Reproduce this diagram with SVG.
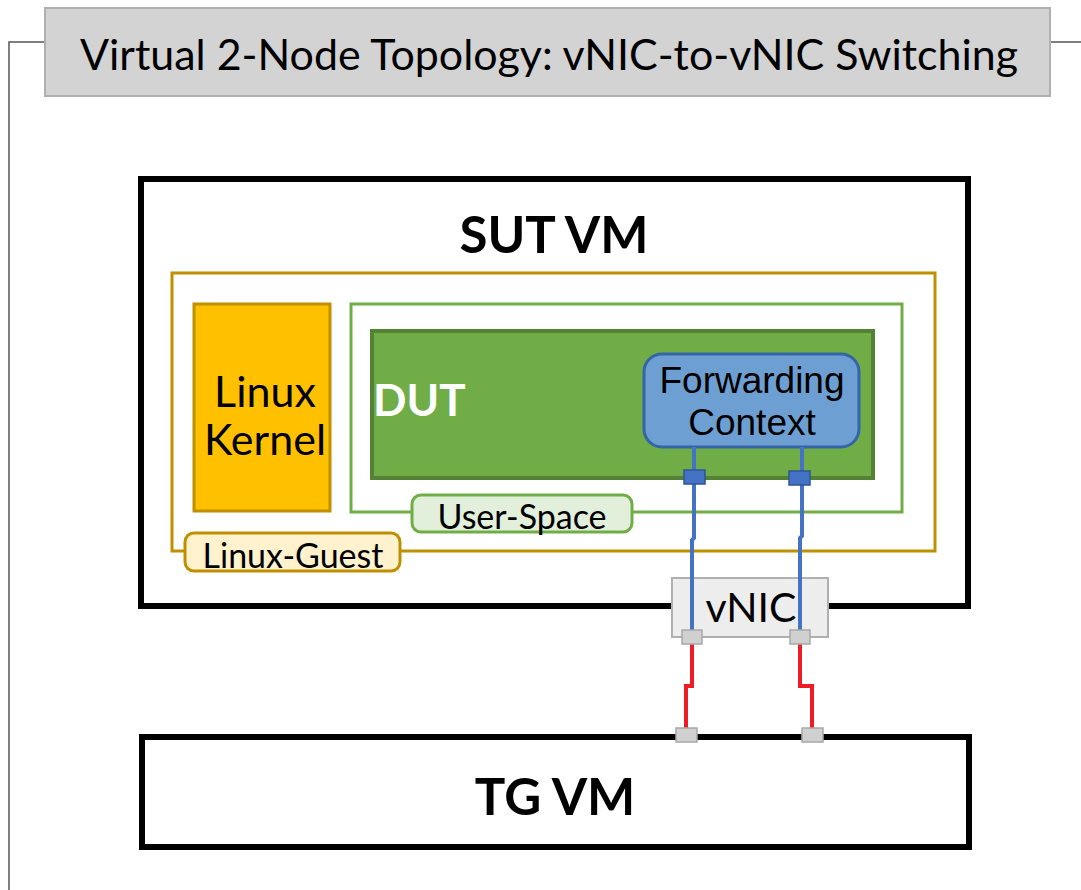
<svg xmlns="http://www.w3.org/2000/svg" width="1081" height="890" viewBox="0 0 1081 890">
<style>
.t{font-family:Lato,"Noto Sans","Liberation Sans",sans-serif;fill:#000}
.b{font-weight:bold}
.fc{font-family:"Liberation Sans",Arial,sans-serif;fill:#000}
.port-b{fill:#4472c4;stroke:#2f5597;stroke-width:1.5}
.port-g{fill:#d0d0d0;stroke:#a8a8a8;stroke-width:1.5}
.blue{fill:none;stroke:#4472c4;stroke-width:4}
.red{fill:none;stroke:#ee1c25;stroke-width:4}
</style>
<rect width="1081" height="890" fill="#fff"/>
<g id="frame">
<path d="M45,42 H9 V890" fill="none" stroke="#555" stroke-width="1.5"/>
<path d="M1050,42 H1081" fill="none" stroke="#555" stroke-width="1.5"/>
</g>
<g id="title">
<rect x="45" y="8" width="1005" height="88" fill="#d3d3d3" stroke="#b0b0b0" stroke-width="2"/>
<text class="t" x="549" y="70" font-size="43" text-anchor="middle" textLength="938" lengthAdjust="spacingAndGlyphs">Virtual 2-Node Topology: vNIC-to-vNIC Switching</text>
</g>
<g id="sut-vm">
<rect x="141" y="179" width="827" height="427" fill="#fff" stroke="#000" stroke-width="6"/>
<text class="t b" x="554" y="253" font-size="51" text-anchor="middle">SUT VM</text>
</g>
<g id="linux-guest">
<rect x="172" y="273" width="763" height="278" fill="none" stroke="#bf9000" stroke-width="3"/>
</g>
<g id="linux-kernel">
<rect x="194" y="304" width="136" height="207" fill="#ffc000" stroke="#bf9000" stroke-width="3"/>
<text class="t" x="265" y="407" font-size="43" text-anchor="middle">Linux</text>
<text class="t" x="265" y="455" font-size="43" text-anchor="middle">Kernel</text>
</g>
<g id="user-space">
<rect x="351" y="304" width="551" height="208" fill="none" stroke="#70ad47" stroke-width="3"/>
</g>
<g id="dut">
<rect x="372" y="331" width="501" height="147" fill="#70ad47" stroke="#548235" stroke-width="4"/>
<text class="t b" x="373" y="416" font-size="44" style="fill:#fff">DUT</text>
</g>
<g id="forwarding-context">
<rect x="644" y="354" width="215" height="93" rx="18" ry="18" fill="#6d9fd2" stroke="#3465a8" stroke-width="3"/>
<text class="fc" x="752" y="393" font-size="37" text-anchor="middle">Forwarding</text>
<text class="fc" x="752" y="435" font-size="37" text-anchor="middle">Context</text>
</g>
<g id="user-space-label">
<rect x="412" y="495" width="220" height="37" rx="9" ry="9" fill="#e2efda" stroke="#70ad47" stroke-width="3"/>
<text class="t" x="522" y="529" font-size="34" text-anchor="middle">User-Space</text>
</g>
<g id="linux-guest-label">
<rect x="185" y="533" width="215" height="38" rx="9" ry="9" fill="#fff2cc" stroke="#bf9000" stroke-width="3"/>
<text class="t" x="293" y="568" font-size="34" text-anchor="middle">Linux-Guest</text>
</g>
<g id="vnic">
<rect x="672" y="578" width="156" height="59" fill="#ededed" stroke="#b0b0b0" stroke-width="2"/>
<text class="t" x="751" y="622" font-size="41" text-anchor="middle">vNIC</text>
</g>
<g id="tg-vm">
<rect x="142" y="737" width="827" height="110" fill="#fff" stroke="#000" stroke-width="6"/>
<text class="t b" x="555" y="815" font-size="51" text-anchor="middle">TG VM</text>
</g>
<g id="connectors">
<path class="blue" d="M694,447 V538 L692,540 V636"/>
<path class="blue" d="M802,447 V536 L800,538 V636"/>
<path class="red" d="M692,644 V686 H686 V729"/>
<path class="red" d="M800,644 V686 H812 V729"/>
<rect class="port-b" x="684" y="470" width="21" height="14"/>
<rect class="port-b" x="789" y="471" width="21" height="14"/>
<rect class="port-g" x="682" y="630" width="20" height="14"/>
<rect class="port-g" x="790" y="630" width="20" height="14"/>
<rect class="port-g" x="676" y="728" width="21" height="14"/>
<rect class="port-g" x="802" y="728" width="21" height="14"/>
</g>
</svg>
